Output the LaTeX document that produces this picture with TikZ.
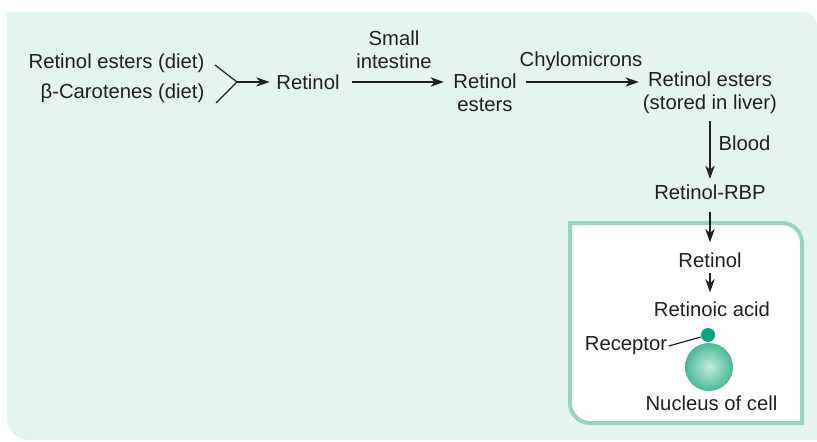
\documentclass[tikz,border=0pt]{standalone}
\usepackage{fontspec}
\setmainfont{Liberation Sans}
\usetikzlibrary{arrows.meta}

\definecolor{panelfill}{RGB}{228,244,238}
\definecolor{cellline}{RGB}{152,212,190}
\definecolor{recgreen}{RGB}{0,166,126}
\definecolor{nucin}{RGB}{196,234,219}
\definecolor{nucout}{RGB}{72,186,150}
\definecolor{ink}{RGB}{35,31,32}

\tikzset{every picture/.style={line width=0.9pt}}
\tikzset{
  txt/.style={inner sep=0.75pt, align=center, text=ink, font=\fontsize{15.2}{17}\selectfont},
  flow/.style={draw=ink, -{Stealth[length=10pt,width=7pt,inset=3pt]}},
}

\begin{document}
\begin{tikzpicture}[x=0.75pt,y=0.75pt,yscale=-1,xscale=1]
\useasboundingbox (0,0) rectangle (817,442);

%Shape: Panel
\fill [panelfill] (7,12) -- (803,12) arc [start angle=-90, end angle=0, radius=14] -- (818,440) -- (29,440) arc [start angle=90, end angle=180, radius=22] -- cycle ;
%Shape: Cell
\draw [color=cellline, line width=3pt, fill=white] (570,223) -- (782,223) arc [start angle=-90, end angle=0, radius=20] -- (802,423) -- (590,423) arc [start angle=90, end angle=180, radius=20] -- cycle ;

% Text Node
\node (d1) [txt, anchor=east] at (206,63) {Retinol esters (diet)};
% Text Node
\node (d2) [txt, anchor=east] at (206,93) {β-Carotenes (diet)};
\coordinate (d1end) at (215,65);
\coordinate (d2end) at (216,103);
\coordinate (j) at (237,82);
% Text Node
\node (r1) [txt] at (308,82) {Retinol};
% Text Node
\node (re) [txt] at (485,92.5) {Retinol\\esters};
% Text Node
\node (rl) [txt] at (710,92.5) {Retinol esters\\(stored in liver)};
% Text Node
\node (si) [txt] at (394,50) {Small\\intestine};
% Text Node
\node (chy) [txt] at (581,61) {Chylomicrons};
% Text Node
\node (bl) [txt, anchor=west] at (717,143) {Blood};
% Text Node
\node (rbp) [txt] at (710,192) {Retinol-RBP};
% Text Node
\node (r2) [txt] at (710,260) {Retinol};
% Text Node
\node (ra) [txt] at (712,309.5) {Retinoic acid};
% Text Node
\node (recl) [txt] at (626,346) {Receptor};
% Text Node
\node (nl) [txt] at (711.5,403) {Nucleus of cell};

%Shape: Nucleus
\node (nuc) [circle, minimum size=36pt, inner sep=0pt, inner color=nucin, outer color=nucout] at (709,367) {};
%Shape: Receptor dot
\node (rec) [circle, minimum size=10.5pt, inner sep=0pt, fill=recgreen] at (708,335) {};

%Straight Lines
\draw [ink] (d1end) -- (j) -- (d2end) ;
\draw [flow, shorten >=4pt] (j) -- (r1.west) ;
\draw [flow, shorten <=8pt, shorten >=6pt] (r1.east) -- (r1.east -| re.west) ;
\draw [flow, shorten <=6pt, shorten >=2pt] (r1.east -| re.east) -- (r1.east -| rl.west) ;
\draw [flow, shorten <=4.5pt, shorten >=3pt] (rl.south) -- (rbp.north) ;
\draw [flow, shorten <=8pt, shorten >=6.5pt] (rbp.south) -- (r2.north) ;
\draw [flow, shorten <=3pt, shorten >=6pt] (r2.south) -- (r2.south |- ra.north) ;
\draw [ink] (recl.east) -- (rec) ;

\end{tikzpicture}
\end{document}
